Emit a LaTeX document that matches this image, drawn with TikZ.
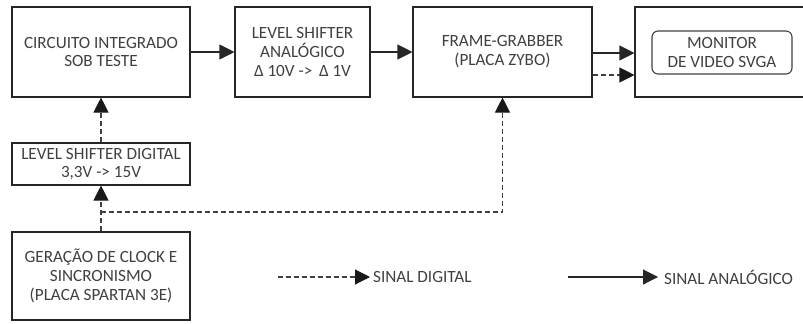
\documentclass[tikz,border=0pt]{standalone}
\usepackage{fontspec}
\setmainfont{Carlito}
\usetikzlibrary{arrows.meta}
\begin{document}
\begin{tikzpicture}[x=1bp,y=-1bp,
  txt/.style={text=black!75,font=\fontsize{17.2}{19}\selectfont},
  blk/.style={txt,draw=black!85,line width=1.1bp,align=center,inner sep=0pt},
  inner/.style={txt,draw=black!75,line width=1.1bp,rounded corners=6bp,align=center,inner sep=0pt},
  lbl/.style={txt,anchor=west,inner sep=0pt},
  ana/.style={draw=black!85,line width=1.1bp,-{Triangle[length=15bp,width=15bp]}},
  dig/.style={draw=black!75,line width=1.1bp,dash pattern=on 5bp off 3bp,
    -{Triangle[length=15bp,width=15bp,color=black!90]}}]
\useasboundingbox (0,0) rectangle (803,323);
\node[blk,minimum width=178bp,minimum height=90bp] (ci) at (101,52) {CIRCUITO INTEGRADO\\SOB TESTE};
\node[blk,minimum width=135bp,minimum height=90bp] (lsa) at (302.5,52) {LEVEL SHIFTER\\ANALÓGICO\\Δ 10V -> \,Δ 1V};
\node[blk,minimum width=179bp,minimum height=90bp] (fg) at (502.5,52) {FRAME-GRABBER\\(PLACA ZYBO)};
\node[blk,minimum width=180bp,minimum height=90bp] (mon) at (725,52) {};
\node[inner,minimum width=140bp,minimum height=43bp] (moni) at (722,52.5) {MONITOR\\DE VIDEO SVGA};
\node[blk,minimum width=178bp,minimum height=42bp] (lsd) at (101,164) {LEVEL SHIFTER DIGITAL\\3,3V -> 15V};
\node[blk,minimum width=178bp,minimum height=88bp] (gen) at (101,276) {GERAÇÃO DE CLOCK E\\SINCRONISMO\\(PLACA SPARTAN 3E)};
\draw[ana] (ci) -- (lsa);
\draw[ana] (lsa) -- (fg);
\draw[ana] (fg.east |- 0,53) -- (mon.west |- 0,53);
\draw[dig] (fg.east |- 0,75) -- (mon.west |- 0,75);
\draw[dig] (lsd) -- (ci);
\draw[dig] (gen) -- (lsd);
\coordinate (br) at (101,212);
\draw[dig] (br) -| (fg);
\coordinate (d1) at (278,277);
\coordinate (d2) at (370,277);
\draw[dig] (d1) -- (d2);
\node[lbl] (ld) at (373,277) {SINAL DIGITAL};
\coordinate (a1) at (568,277);
\coordinate (a2) at (658,277);
\draw[ana] (a1) -- (a2);
\node[lbl] (la) at (664,277) {SINAL ANALÓGICO};
\end{tikzpicture}
\end{document}
